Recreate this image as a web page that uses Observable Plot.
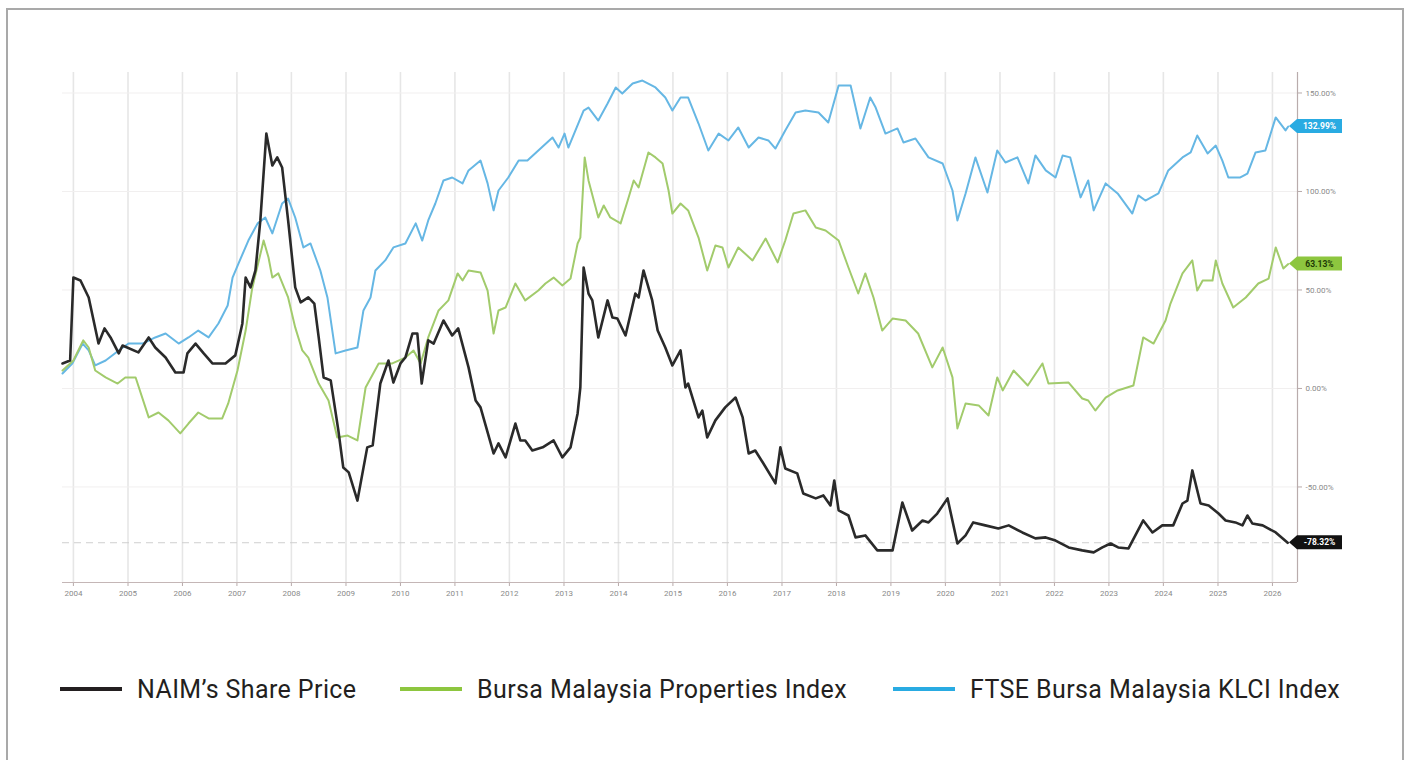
<!DOCTYPE html>
<html>
<head>
<meta charset="utf-8">
<script src="https://cdn.jsdelivr.net/npm/d3@7"></script>
<script src="https://cdn.jsdelivr.net/npm/@observablehq/plot@0.6"></script>
<style>
  html, body { margin: 0; padding: 0; background: #fff; }
  body { width: 1411px; height: 760px; position: relative; overflow: hidden; font-family: Roboto, "Noto Sans", sans-serif; }
  #frame { position: absolute; left: 6px; top: 8px; width: 1398px; height: 800px; border: 2px solid #a9a9a9; box-sizing: border-box; }
  #chart { position: absolute; left: 0; top: 0; }
  .leg { position: absolute; top: 674px; height: 30px; display: flex; align-items: center; font-size: 25px; letter-spacing: 0.4px; color: #231f20; white-space: nowrap; }
  .sw { display: inline-block; width: 62px; height: 4px; margin-right: 15px; }
</style>
</head>
<body>
<div id="frame"></div>
<div id="chart"></div>
<div class="leg" style="left:60px"><span class="sw" style="background:#231f20"></span><span id="l0"></span></div>
<div class="leg" style="left:400px"><span class="sw" style="background:#8dc63f"></span><span id="l1"></span></div>
<div class="leg" style="left:893px"><span class="sw" style="background:#29abe2"></span><span id="l2"></span></div>
<script>
// ---- Data (performance since start, %; time as decimal years) ----
const seriesNames = ["NAIM’s Share Price", "Bursa Malaysia Properties Index", "FTSE Bursa Malaysia KLCI Index"];
const seriesColors = ["#2a2a2a", "#a2cb6c", "#66b7e4"];
const tagColors = ["#111111", "#8dc63f", "#29abe2"];
const tagTextColors = ["#ffffff", "#1d3a05", "#ffffff"];

const naimT = [2003.80,2003.94,2004.00,2004.13,2004.28,2004.46,2004.57,2004.68,2004.83,2004.90,
2005.19,2005.38,2005.50,2005.69,2005.87,2006.02,2006.09,2006.24,2006.39,2006.55,
2006.79,2006.97,2007.10,2007.16,2007.25,2007.34,2007.43,2007.54,2007.65,2007.74,
2007.83,2007.94,2008.07,2008.17,2008.31,2008.42,2008.50,2008.59,2008.72,2008.86,
2008.95,2009.05,2009.21,2009.39,2009.49,2009.63,2009.78,2009.87,2010.00,2010.09,
2010.22,2010.31,2010.39,2010.51,2010.61,2010.79,2010.95,2011.06,2011.25,2011.38,
2011.47,2011.71,2011.80,2011.93,2012.11,2012.20,2012.29,2012.42,2012.61,2012.81,
2012.97,2013.12,2013.25,2013.30,2013.36,2013.45,2013.52,2013.63,2013.80,2013.89,
2013.98,2014.13,2014.31,2014.37,2014.46,2014.62,2014.72,2014.86,2014.99,2015.14,
2015.23,2015.28,2015.47,2015.54,2015.63,2015.78,2015.96,2016.15,2016.28,2016.39,
2016.51,2016.66,2016.88,2016.97,2017.06,2017.28,2017.39,2017.62,2017.76,2017.89,
2017.96,2018.04,2018.22,2018.35,2018.53,2018.75,2019.03,2019.21,2019.39,2019.58,
2019.69,2019.85,2020.04,2020.22,2020.37,2020.51,2020.73,2020.97,2021.16,2021.41,
2021.65,2021.84,2022.02,2022.26,2022.51,2022.72,2022.88,2023.03,2023.17,2023.36,
2023.63,2023.80,2023.98,2024.18,2024.35,2024.44,2024.53,2024.68,2024.83,2025.01,
2025.14,2025.32,2025.45,2025.54,2025.63,2025.82,2026.06,2026.28];
const naimV = [12.7,14.2,56.3,54.8,46.2,22.8,30.5,25.9,17.8,21.8,
18.3,25.9,20.8,15.7,8.1,8.1,17.8,22.8,17.8,12.7,
12.7,16.8,33.0,56.3,51.3,59.9,85.3,129.4,113.2,117.3,
112.2,85.3,51.3,43.7,46.2,43.1,25.9,5.6,4.1,-21.3,
-40.1,-42.6,-56.9,-29.9,-28.9,2.5,14.2,3.0,12.7,15.7,
27.9,27.9,2.5,24.4,22.8,34.5,26.9,30.5,10.7,-6.1,
-9.6,-33.0,-27.9,-35.0,-17.8,-26.4,-26.4,-31.5,-29.9,-26.4,
-35.0,-29.9,-12.7,0.5,61.4,48.2,44.7,25.9,44.7,36.0,
35.5,26.9,48.2,46.2,59.9,44.7,29.4,20.8,11.7,19.3,
0.5,2.5,-14.7,-11.2,-24.9,-16.2,-9.6,-4.6,-14.7,-33.0,
-31.5,-38.1,-48.2,-29.9,-40.6,-43.1,-53.3,-55.8,-54.3,-59.4,
-46.7,-61.9,-64.5,-75.6,-74.6,-82.2,-82.2,-57.9,-72.1,-67.0,
-68.0,-63.5,-55.8,-78.7,-74.6,-68.0,-69.5,-71.1,-69.5,-73.1,
-76.1,-75.6,-77.2,-80.7,-82.2,-83.2,-80.7,-78.7,-80.7,-81.2,
-67.0,-73.1,-69.5,-69.5,-58.4,-56.9,-41.6,-58.4,-59.4,-63.5,
-67.0,-68.0,-69.5,-64.5,-68.5,-69.5,-73.1,-78.32];

const propT = [2003.80,2004.00,2004.18,2004.28,2004.40,2004.59,2004.81,2004.95,2005.14,2005.38,
2005.56,2005.74,2005.96,2006.11,2006.29,2006.48,2006.73,2006.84,2007.01,2007.16,
2007.28,2007.39,2007.49,2007.58,2007.65,2007.76,2007.94,2008.07,2008.20,2008.31,
2008.50,2008.68,2008.84,2009.03,2009.21,2009.36,2009.60,2009.85,2010.09,2010.24,
2010.37,2010.51,2010.70,2010.88,2011.05,2011.14,2011.25,2011.47,2011.60,2011.71,
2011.80,2011.93,2012.11,2012.29,2012.53,2012.66,2012.81,2012.97,2013.12,2013.25,
2013.30,2013.38,2013.45,2013.63,2013.73,2013.85,2014.04,2014.17,2014.28,2014.37,
2014.55,2014.68,2014.81,2014.92,2014.99,2015.14,2015.28,2015.47,2015.63,2015.78,
2015.91,2016.02,2016.20,2016.46,2016.70,2016.92,2017.06,2017.21,2017.43,2017.62,
2017.80,2018.04,2018.22,2018.40,2018.53,2018.68,2018.84,2019.03,2019.27,2019.50,
2019.76,2019.95,2020.13,2020.22,2020.37,2020.61,2020.79,2020.95,2021.05,2021.25,
2021.51,2021.78,2021.89,2022.26,2022.51,2022.62,2022.75,2022.94,2023.16,2023.45,
2023.63,2023.82,2024.04,2024.13,2024.35,2024.53,2024.62,2024.72,2024.90,2024.96,
2025.08,2025.28,2025.51,2025.74,2025.93,2026.06,2026.20,2026.29];
const propV = [9.1,14.2,24.4,20.8,9.1,5.6,2.5,5.6,5.6,-14.7,
-12.2,-16.2,-22.8,-17.8,-12.2,-15.2,-15.2,-7.6,9.1,29.4,
50.8,63.5,75.1,66.5,56.3,58.4,46.2,31.0,19.3,15.7,
2.5,-6.1,-24.9,-23.9,-26.4,0.5,12.7,12.7,15.7,19.3,
12.7,25.9,39.6,44.7,58.4,54.8,59.9,58.9,49.7,27.9,
39.6,41.1,53.3,44.7,49.7,53.3,56.3,52.3,55.8,73.6,
76.6,117.3,105.6,86.8,92.9,86.8,83.8,95.4,105.6,102.0,
119.8,117.3,114.2,100.5,88.8,93.9,90.4,76.6,59.9,72.6,
71.6,61.4,71.6,65.0,76.1,64.0,75.1,88.8,90.4,81.7,
80.2,75.1,61.4,48.2,58.4,46.2,29.4,35.5,34.5,27.9,
10.7,20.8,5.6,-20.3,-7.6,-8.6,-13.7,5.6,-1.0,9.1,
1.5,12.7,2.5,3.0,-5.1,-6.1,-11.2,-4.6,-1.0,1.5,
25.9,22.8,34.5,43.1,58.4,65.0,49.7,54.8,54.8,65.0,
53.3,41.1,46.2,53.3,55.8,71.6,60.9,63.13];

const klciT = [2003.80,2003.98,2004.17,2004.28,2004.40,2004.59,2004.83,2005.01,2005.27,2005.50,
2005.69,2005.93,2006.11,2006.29,2006.48,2006.66,2006.83,2006.92,2007.03,2007.21,
2007.38,2007.52,2007.65,2007.83,2007.94,2008.07,2008.22,2008.35,2008.53,2008.66,
2008.81,2008.99,2009.21,2009.32,2009.45,2009.54,2009.72,2009.87,2010.09,2010.28,
2010.40,2010.51,2010.64,2010.79,2010.95,2011.14,2011.25,2011.47,2011.60,2011.71,
2011.80,2011.98,2012.17,2012.33,2012.53,2012.79,2012.90,2013.01,2013.08,2013.36,
2013.45,2013.63,2013.80,2013.95,2014.07,2014.26,2014.44,2014.68,2014.86,2014.99,
2015.14,2015.28,2015.47,2015.65,2015.84,2016.02,2016.20,2016.39,2016.57,2016.75,
2016.88,2017.06,2017.25,2017.43,2017.67,2017.85,2018.04,2018.26,2018.44,2018.62,
2018.72,2018.90,2019.12,2019.23,2019.45,2019.69,2019.95,2020.13,2020.22,2020.37,
2020.55,2020.77,2020.95,2021.10,2021.32,2021.52,2021.65,2021.84,2022.02,2022.15,
2022.29,2022.48,2022.62,2022.72,2022.94,2023.16,2023.43,2023.54,2023.67,2023.91,
2024.09,2024.35,2024.50,2024.62,2024.81,2024.96,2025.08,2025.19,2025.41,2025.54,
2025.69,2025.87,2026.06,2026.24,2026.29];
const klciV = [7.6,12.7,22.8,19.3,11.7,14.2,19.3,22.8,22.8,25.9,
27.9,22.8,25.9,29.4,25.9,33.0,42.1,56.3,63.5,75.1,
83.8,86.8,78.7,93.9,96.4,86.8,71.6,73.6,59.9,46.2,
17.8,19.3,20.8,39.6,46.2,59.9,65.0,71.6,73.6,83.8,
75.1,85.3,93.9,105.6,107.1,104.1,110.7,115.7,104.1,90.4,
100.5,107.1,115.7,115.7,120.8,127.4,122.3,129.4,122.3,141.1,
142.6,136.0,144.7,152.8,149.7,154.8,156.3,152.8,147.7,141.1,
147.7,147.7,134.5,120.8,129.4,125.9,132.5,122.3,127.4,125.9,
121.8,131.0,140.1,141.1,140.1,135.0,153.8,153.8,132.0,147.7,
142.6,129.4,132.0,124.9,126.9,117.3,114.2,100.5,85.3,99.0,
117.3,99.5,120.8,114.7,117.3,104.1,118.3,110.7,107.1,118.3,
117.3,97.0,105.6,90.4,104.1,99.0,88.8,98.0,95.4,99.0,
110.7,117.3,119.8,128.4,119.3,123.3,115.7,107.1,107.1,109.1,
119.8,120.8,137.6,131.0,132.99];

const yTicks = [-50, 0, 50, 100, 150];
const xTickYears = d3.range(2004, 2027);
const xDomainYears = [2003.80, 2026.46];
const yDomain = [-98.5, 160.4];

// ---- Helpers ----
function dy(t) {
  const y = Math.floor(t);
  const s = Date.UTC(y, 0, 1), e = Date.UTC(y + 1, 0, 1);
  return new Date(s + (t - y) * (e - s));
}
function build(name, T, V) { return T.map((t, i) => ({series: name, date: dy(t), value: V[i]})); }

const naim = build(seriesNames[0], naimT, naimV);
const prop = build(seriesNames[1], propT, propV);
const klci = build(seriesNames[2], klciT, klciV);
const lasts = [naim, prop, klci].map(s => s[s.length - 1].value);

const W = 1411, H = 620;
const fmtPct = d => d.toFixed(2) + "%";

// end-of-line value tags (positioned via the y scale)
function tags(index, scales, values, dims) {
  const g = d3.create("svg:g");
  const x0 = dims.width - dims.marginRight - 8;
  const w = 53, h = 14, notch = 8;
  lasts.forEach((v, i) => {
    const y = scales.y(v);
    g.append("path")
      .attr("d", `M${x0},${y} L${x0 + notch},${y - h / 2} L${x0 + w},${y - h / 2} L${x0 + w},${y + h / 2} L${x0 + notch},${y + h / 2} Z`)
      .attr("fill", tagColors[i]);
    g.append("text")
      .attr("x", x0 + notch + (w - notch) / 2).attr("y", y).attr("dy", "0.35em")
      .attr("text-anchor", "middle")
      .attr("font-size", 8.5).attr("font-weight", 700)
      .attr("font-family", "Roboto, sans-serif")
      .attr("fill", tagTextColors[i])
      .text(fmtPct(v));
  });
  return g.node();
}

const chart = Plot.plot({
  width: W, height: H,
  marginLeft: 62, marginRight: 114, marginTop: 72, marginBottom: 38,
  style: {fontFamily: "Roboto, sans-serif", background: "transparent", overflow: "visible"},
  x: {type: "utc", domain: xDomainYears.map(dy), label: null},
  y: {domain: yDomain, label: null},
  marks: [
    Plot.ruleX(xTickYears.map(y => dy(y)), {stroke: "#e6e6e6", strokeWidth: 1.6}),
    Plot.ruleY(yTicks, {stroke: "#f1efef", strokeWidth: 1}),
    Plot.ruleY([lasts[0]], {stroke: "#cfcfcf", strokeDasharray: "7,5", strokeWidth: 1}),
    Plot.axisX({ticks: xTickYears.map(y => dy(y)), tickFormat: d3.utcFormat("%Y"), tickSize: 4, tickPadding: 4,
      fontSize: 8, color: "#8a8a8a", stroke: "#b8aaaa", label: null}),
    Plot.ruleY([yDomain[0]], {stroke: "#c4b6b6", strokeWidth: 1.2}),
    Plot.axisY({anchor: "right", ticks: yTicks, tickFormat: fmtPct, tickSize: 4, tickPadding: 4,
      fontSize: 8, color: "#8a8a8a", stroke: "#b8aaaa", label: null}),
    Plot.ruleX([dy(xDomainYears[1])], {stroke: "#b9acac", strokeWidth: 1.2}),
    Plot.lineY(klci, {x: "date", y: "value", stroke: seriesColors[2], strokeWidth: 2, curve: "linear"}),
    Plot.lineY(prop, {x: "date", y: "value", stroke: seriesColors[1], strokeWidth: 2, curve: "linear"}),
    Plot.lineY(naim, {x: "date", y: "value", stroke: seriesColors[0], strokeWidth: 2.6, curve: "linear"}),
    tags
  ]
});
document.getElementById("chart").appendChild(chart);
seriesNames.forEach((n, i) => { document.getElementById("l" + i).textContent = n; });
</script>
</body>
</html>
